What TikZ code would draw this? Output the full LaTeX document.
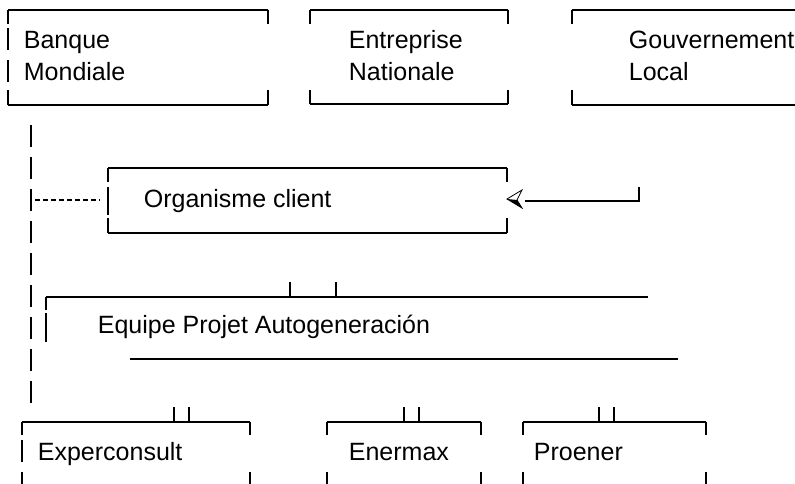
\documentclass[tikz,border=0pt]{standalone}
\usepackage{fontspec}
\setmainfont{Liberation Sans}
\usetikzlibrary{arrows.meta}

\begin{document}
\begin{tikzpicture}[x=1pt,y=-1pt,line width=1.8pt,
    lbl/.style={anchor=base west,inner sep=0pt,font=\fontsize{25}{30}\selectfont},
    bar/.style={dash pattern=on 22pt off 10pt},
    dots/.style={dash pattern=on 5pt off 3pt}]
\useasboundingbox (0,0) rectangle (795,484);

% top row
\draw (8,10) -- (268,10) (8,105) -- (268,105);
\draw (8,10) -- (8,24) (8,28) -- (8,50) (8,60) -- (8,82) (8,90) -- (8,105);
\draw (268,10) -- (268,24) (268,90) -- (268,105);
\node[lbl] (bm1) at (23,49) {Banque};
\node[lbl] (bm2) at (23,81) {Mondiale};

\draw (310,10) -- (508,10) (310,104) -- (508,104);
\draw (310,10) -- (310,24) (310,90) -- (310,104);
\draw (508,10) -- (508,24) (508,90) -- (508,104);
\node[lbl] (en1) at (348,49) {Entreprise};
\node[lbl] (en2) at (348,81) {Nationale};

\draw (572,10) -- (795,10) (572,105) -- (795,105);
\draw (572,10) -- (572,24) (572,90) -- (572,105);
\node[lbl] (gl1) at (628,49) {Gouvernement};
\node[lbl] (gl2) at (628,81) {Local};

% organisme client
\draw (108,168) -- (507,168) (108,233) -- (507,233);
\draw (108,168) -- (108,182) (108,187) -- (108,215) (108,218) -- (108,233);
\draw (507,168) -- (507,182) (507,218) -- (507,233);
\node[lbl] (oc) at (143,207) {Organisme client};

% links
\coordinate (bm-out) at (31,125);
\coordinate (bm-end) at (31,405);
\coordinate (bm-mid) at (35,200);
\coordinate (oc-left) at (100,200);
\coordinate (gl-out) at (639,187);
\coordinate (oc-right) at (525,201);
\draw[bar] (bm-out) -- (bm-end);
\draw[dots] (bm-mid) -- (oc-left);
\draw (gl-out) |- (oc-right);
\fill (507,199) -- (517,200) -- (522,208) -- cycle;
\draw[line width=0.8pt,line join=miter] (517,200) -- (522,190) -- (507,199) -- (522,208) -- cycle;

% equipe projet
\draw (46,297) -- (648,297);
\draw (290,282) -- (290,297) (336,282) -- (336,297);
\draw (46,297) -- (46,310) (46,313) -- (46,342);
\draw (130,359) -- (678,359);
\node[lbl] (ep) at (97,333) {Equipe Projet Autogeneración};

% bottom row
\draw (22,422) -- (250,422);
\draw (174,407) -- (174,422) (189,407) -- (189,422);
\draw (22,422) -- (22,435) (22,440) -- (22,462) (22,472) -- (22,484);
\draw (250,422) -- (250,435) (250,472) -- (250,484);
\node[lbl] (ex) at (37,460) {Experconsult};

\draw (327,422) -- (481,422);
\draw (404,407) -- (404,422) (419,407) -- (419,422);
\draw (327,422) -- (327,435) (327,472) -- (327,484);
\draw (481,422) -- (481,435) (481,472) -- (481,484);
\node[lbl] (nx) at (348,460) {Enermax};

\draw (523,422) -- (706,422);
\draw (599,407) -- (599,422) (614,407) -- (614,422);
\draw (523,422) -- (523,435) (523,472) -- (523,484);
\draw (706,422) -- (706,435) (706,472) -- (706,484);
\node[lbl] (pr) at (533,460) {Proener};
\end{tikzpicture}
\end{document}
